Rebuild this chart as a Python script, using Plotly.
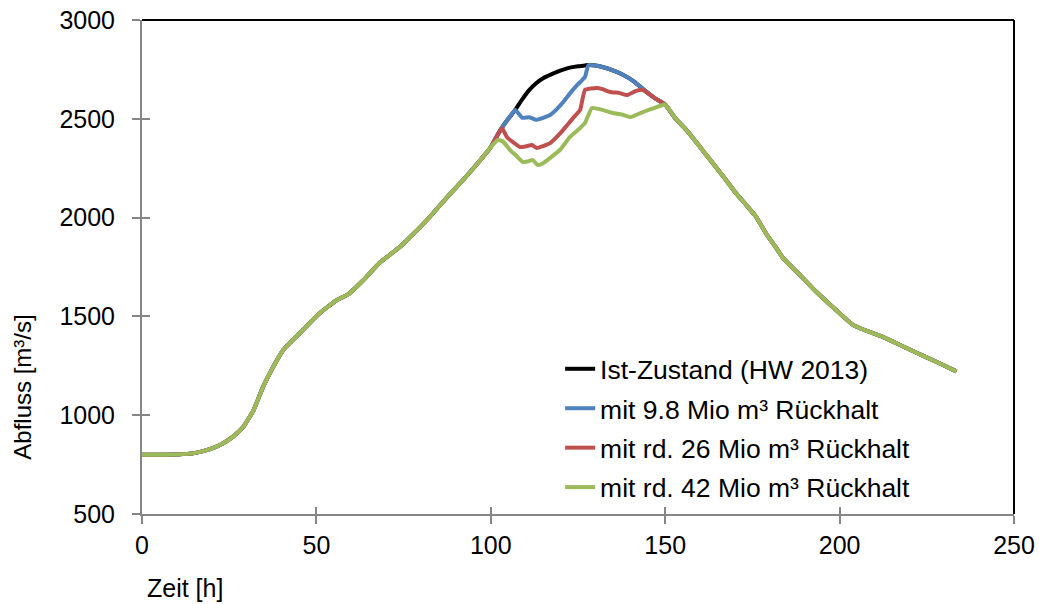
import plotly.graph_objects as go

# shared rising limb
zeit_anstieg = [0, 5, 10, 15, 19.5, 22.5, 26, 29, 32, 34.7, 37.6, 40.5, 45.3, 51, 55.9, 59, 63.5, 68, 74, 77.5, 82.5, 87.5, 92, 96, 100]
q_anstieg = [800, 800, 801, 808, 828, 850, 890, 940, 1026, 1143, 1244, 1330, 1416, 1517, 1583, 1610, 1684, 1769, 1853, 1912, 2003, 2104, 2190, 2270, 2357]

# shared falling limb
zeit_abfall = [153, 156, 160, 163, 167, 170, 173.4, 176, 179.2, 181.5, 183.8, 188.6, 193, 198, 201, 203.8, 208, 212.4, 217, 222.2, 228, 233.5]
q_abfall = [2500, 2445, 2357, 2290, 2200, 2130, 2060, 2005, 1912, 1855, 1795, 1710, 1630, 1548, 1500, 1457, 1425, 1396, 1358, 1315, 1268, 1222]

# peak sections per scenario
zeit_ist = [102, 103, 105, 107, 109, 111, 113, 115, 117, 119, 121, 123, 125, 127, 128, 130, 132, 135, 138, 141, 144, 147, 150]
q_ist = [2420, 2450, 2500, 2545, 2598, 2645, 2680, 2705, 2722, 2737, 2750, 2760, 2766, 2770, 2772, 2770, 2762, 2745, 2722, 2690, 2645, 2605, 2572]

zeit_98 = [102, 103, 105, 107, 109, 111, 113, 115, 117, 119, 121, 123, 125, 127, 128, 130, 132, 135, 138, 141, 144, 147, 150]
q_98 = [2420, 2450, 2500, 2545, 2505, 2508, 2495, 2505, 2519, 2550, 2590, 2635, 2675, 2712, 2772, 2770, 2762, 2745, 2722, 2690, 2645, 2605, 2572]

zeit_26 = [102, 103.2, 104.6, 106.5, 108.4, 110, 111.8, 113.2, 115, 117, 119, 120.7, 122, 123.6, 125.6, 127, 130.4, 132, 134.2, 137, 139, 141.5, 143.6, 147, 150]
q_26 = [2420, 2453, 2408, 2380, 2357, 2360, 2367, 2352, 2362, 2377, 2410, 2443, 2470, 2504, 2545, 2646, 2656, 2650, 2636, 2630, 2620, 2640, 2646, 2605, 2572]

zeit_42 = [102, 103.5, 105.5, 107, 109.2, 110.5, 112, 113.5, 115, 117, 119.8, 122.7, 125.6, 127, 129, 132, 135, 137.5, 140, 141.5, 143.6, 147, 150]
q_42 = [2393, 2385, 2342, 2318, 2281, 2284, 2291, 2266, 2275, 2302, 2342, 2408, 2453, 2479, 2555, 2545, 2529, 2522, 2509, 2518, 2534, 2555, 2572]

namen = ["Ist-Zustand (HW 2013)", "mit 9.8 Mio m³ Rückhalt", "mit rd. 26 Mio m³ Rückhalt", "mit rd. 42 Mio m³ Rückhalt"]
farben = ["#000000", "#4F81BD", "#C0504D", "#9BBB59"]
spitzen = [(zeit_ist, q_ist), (zeit_98, q_98), (zeit_26, q_26), (zeit_42, q_42)]

FONT = "Liberation Sans, Arial, sans-serif"

fig = go.Figure()
for i, (name, farbe, (zs, qs)) in enumerate(zip(namen, farben, spitzen)):
    fig.add_trace(go.Scatter(
        x=zeit_anstieg + zs + zeit_abfall,
        y=q_anstieg + qs + q_abfall,
        mode="lines", name=name, legendgroup=f"g{i}",
        line=dict(color=farbe, width=4, shape="spline", smoothing=0.4),
    ))

# helper (empty) trace to enable the inner-tick overlay axes
fig.add_trace(go.Scatter(x=[], y=[], xaxis="x2", yaxis="y2", showlegend=False, hoverinfo="skip"))

axis_common = dict(showgrid=False, zeroline=False, linecolor="#868686", linewidth=2,
                   tickcolor="#868686", tickwidth=2, ticklen=8, automargin=False,
                   tickfont=dict(family=FONT, size=25, color="#000000"))

fig.update_layout(
    width=1039, height=604,
    margin=dict(l=142, r=25, t=20, b=90, autoexpand=False),
    paper_bgcolor="white", plot_bgcolor="white",
    font=dict(family=FONT, size=25, color="#000000"),
    xaxis=dict(range=[0, 250], dtick=50, ticks="outside", showline=True, **axis_common),
    yaxis=dict(range=[500, 3000], dtick=500, ticks="outside", showline=True,
               ticklabelstandoff=12, **axis_common),
    xaxis2=dict(range=[0, 250], dtick=50, ticks="inside", overlaying="x", side="bottom", anchor="y2",
                showticklabels=False, showline=False, showgrid=False, zeroline=False, automargin=False,
                tickcolor="#868686", tickwidth=2, ticklen=7),
    yaxis2=dict(range=[500, 3000], dtick=500, ticks="inside", overlaying="y", side="left", anchor="x2",
                showticklabels=False, showline=False, showgrid=False, zeroline=False, automargin=False,
                tickcolor="#868686", tickwidth=2, ticklen=8),
    legend=dict(x=0.4795, y=0.342, xanchor="left", yanchor="top", bgcolor="rgba(0,0,0,0)",
                traceorder="grouped",
                font=dict(family=FONT, size=26.5, color="#000000"), tracegroupgap=2),
    showlegend=True,
)

fig.add_shape(type="line", xref="paper", yref="paper", x0=0, x1=1, y0=1, y1=1,
              line=dict(color="#000000", width=2))
fig.add_shape(type="line", xref="paper", yref="paper", x0=1, x1=1, y0=0, y1=1,
              line=dict(color="#000000", width=2))

fig.add_annotation(text="Abfluss [m³/s]", xref="paper", yref="paper", x=-0.138, y=0.257,
                   xanchor="center", yanchor="middle", textangle=-90, showarrow=False,
                   font=dict(family=FONT, size=24, color="#000000"))
fig.add_annotation(text="Zeit [h]", xref="paper", yref="paper", x=0.003, y=-0.15,
                   xanchor="left", yanchor="middle", showarrow=False,
                   font=dict(family=FONT, size=25, color="#000000"))

fig.write_html("out.html")
